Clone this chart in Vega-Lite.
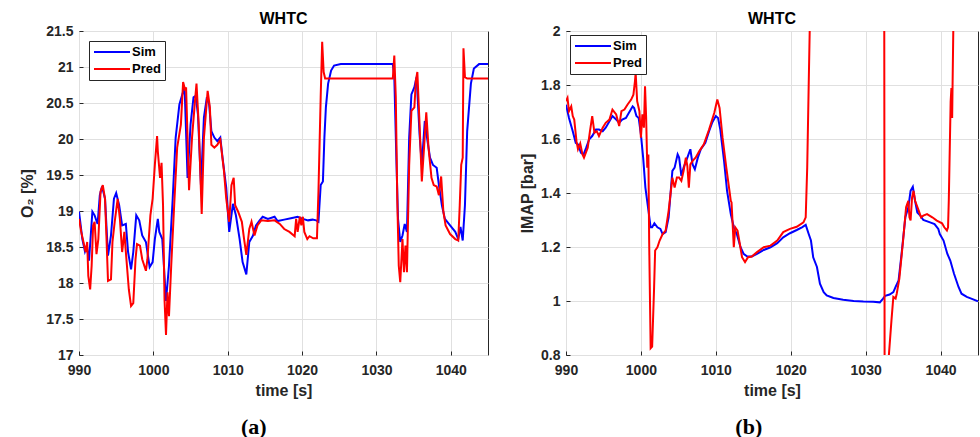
{
"$schema": "https://vega.github.io/schema/vega-lite/v6.json",
"padding": {"left": 19, "top": 10, "right": 0, "bottom": 0},
"spacing": 30,
"resolve": {"scale": {"color": "independent"}, "legend": {"color": "independent"}},
"datasets": {
"o2": [
{"t":990.0,"v":18.99,"s":"Sim"},{"t":990.45,"v":18.61,"s":"Sim"},{"t":990.8,"v":18.44,"s":"Sim"},{"t":991.05,"v":18.52,"s":"Sim"},{"t":991.35,"v":18.31,"s":"Sim"},{"t":991.8,"v":18.99,"s":"Sim"},{"t":992.1,"v":18.94,"s":"Sim"},{"t":992.5,"v":18.82,"s":"Sim"},{"t":992.8,"v":19.22,"s":"Sim"},{"t":993.1,"v":19.34,"s":"Sim"},{"t":993.5,"v":19.17,"s":"Sim"},{"t":993.9,"v":18.38,"s":"Sim"},{"t":994.3,"v":18.66,"s":"Sim"},{"t":994.7,"v":19.17,"s":"Sim"},{"t":995.0,"v":19.25,"s":"Sim"},{"t":995.4,"v":19.08,"s":"Sim"},{"t":995.8,"v":18.80,"s":"Sim"},{"t":996.3,"v":18.82,"s":"Sim"},{"t":996.6,"v":18.43,"s":"Sim"},{"t":997.0,"v":18.19,"s":"Sim"},{"t":997.3,"v":18.43,"s":"Sim"},{"t":997.7,"v":18.94,"s":"Sim"},{"t":998.1,"v":18.87,"s":"Sim"},{"t":998.5,"v":18.66,"s":"Sim"},{"t":999.0,"v":18.57,"s":"Sim"},{"t":999.5,"v":18.22,"s":"Sim"},{"t":999.9,"v":18.29,"s":"Sim"},{"t":1000.2,"v":18.61,"s":"Sim"},{"t":1000.6,"v":18.89,"s":"Sim"},{"t":1000.8,"v":18.71,"s":"Sim"},{"t":1001.2,"v":18.61,"s":"Sim"},{"t":1001.7,"v":17.75,"s":"Sim"},{"t":1002.1,"v":18.24,"s":"Sim"},{"t":1002.6,"v":19.17,"s":"Sim"},{"t":1003.0,"v":20.02,"s":"Sim"},{"t":1003.5,"v":20.48,"s":"Sim"},{"t":1003.9,"v":20.62,"s":"Sim"},{"t":1004.2,"v":20.72,"s":"Sim"},{"t":1004.6,"v":19.46,"s":"Sim"},{"t":1005.0,"v":20.20,"s":"Sim"},{"t":1005.4,"v":20.58,"s":"Sim"},{"t":1005.7,"v":20.60,"s":"Sim"},{"t":1006.0,"v":20.34,"s":"Sim"},{"t":1006.4,"v":19.36,"s":"Sim"},{"t":1006.8,"v":20.30,"s":"Sim"},{"t":1007.2,"v":20.58,"s":"Sim"},{"t":1007.5,"v":20.48,"s":"Sim"},{"t":1007.8,"v":20.11,"s":"Sim"},{"t":1008.2,"v":20.02,"s":"Sim"},{"t":1008.6,"v":19.97,"s":"Sim"},{"t":1009.0,"v":20.02,"s":"Sim"},{"t":1009.3,"v":19.74,"s":"Sim"},{"t":1009.8,"v":19.32,"s":"Sim"},{"t":1010.2,"v":18.71,"s":"Sim"},{"t":1010.7,"v":19.10,"s":"Sim"},{"t":1011.1,"v":18.94,"s":"Sim"},{"t":1011.6,"v":18.61,"s":"Sim"},{"t":1012.0,"v":18.29,"s":"Sim"},{"t":1012.5,"v":18.12,"s":"Sim"},{"t":1012.9,"v":18.57,"s":"Sim"},{"t":1013.4,"v":18.66,"s":"Sim"},{"t":1013.8,"v":18.80,"s":"Sim"},{"t":1014.3,"v":18.87,"s":"Sim"},{"t":1014.7,"v":18.92,"s":"Sim"},{"t":1015.4,"v":18.89,"s":"Sim"},{"t":1016.3,"v":18.92,"s":"Sim"},{"t":1016.7,"v":18.86,"s":"Sim"},{"t":1017.6,"v":18.88,"s":"Sim"},{"t":1018.5,"v":18.90,"s":"Sim"},{"t":1019.4,"v":18.92,"s":"Sim"},{"t":1020.1,"v":18.89,"s":"Sim"},{"t":1020.8,"v":18.87,"s":"Sim"},{"t":1021.4,"v":18.88,"s":"Sim"},{"t":1021.9,"v":18.87,"s":"Sim"},{"t":1022.2,"v":18.85,"s":"Sim"},{"t":1022.5,"v":19.36,"s":"Sim"},{"t":1022.8,"v":19.41,"s":"Sim"},{"t":1023.0,"v":20.02,"s":"Sim"},{"t":1023.2,"v":20.44,"s":"Sim"},{"t":1023.5,"v":20.77,"s":"Sim"},{"t":1023.9,"v":20.95,"s":"Sim"},{"t":1024.3,"v":21.02,"s":"Sim"},{"t":1025.2,"v":21.04,"s":"Sim"},{"t":1032.2,"v":21.04,"s":"Sim"},{"t":1032.4,"v":20.86,"s":"Sim"},{"t":1032.7,"v":19.64,"s":"Sim"},{"t":1032.9,"v":18.89,"s":"Sim"},{"t":1033.2,"v":18.57,"s":"Sim"},{"t":1033.5,"v":18.66,"s":"Sim"},{"t":1033.8,"v":18.82,"s":"Sim"},{"t":1034.1,"v":18.71,"s":"Sim"},{"t":1034.4,"v":20.02,"s":"Sim"},{"t":1034.7,"v":20.62,"s":"Sim"},{"t":1035.1,"v":20.72,"s":"Sim"},{"t":1035.4,"v":20.86,"s":"Sim"},{"t":1035.8,"v":20.06,"s":"Sim"},{"t":1036.1,"v":19.64,"s":"Sim"},{"t":1036.5,"v":20.25,"s":"Sim"},{"t":1036.8,"v":20.02,"s":"Sim"},{"t":1037.2,"v":19.74,"s":"Sim"},{"t":1037.6,"v":19.64,"s":"Sim"},{"t":1038.1,"v":19.60,"s":"Sim"},{"t":1038.4,"v":19.36,"s":"Sim"},{"t":1038.8,"v":19.08,"s":"Sim"},{"t":1039.2,"v":18.89,"s":"Sim"},{"t":1039.9,"v":18.80,"s":"Sim"},{"t":1040.6,"v":18.71,"s":"Sim"},{"t":1041.0,"v":18.61,"s":"Sim"},{"t":1041.3,"v":18.78,"s":"Sim"},{"t":1041.6,"v":18.59,"s":"Sim"},{"t":1041.9,"v":19.08,"s":"Sim"},{"t":1042.2,"v":20.11,"s":"Sim"},{"t":1042.7,"v":20.77,"s":"Sim"},{"t":1043.1,"v":20.98,"s":"Sim"},{"t":1043.8,"v":21.04,"s":"Sim"},{"t":1045.0,"v":21.04,"s":"Sim"},
{"t":990.0,"v":18.89,"s":"Pred"},{"t":990.3,"v":18.71,"s":"Pred"},{"t":990.7,"v":18.52,"s":"Pred"},{"t":990.9,"v":18.43,"s":"Pred"},{"t":991.1,"v":18.57,"s":"Pred"},{"t":991.25,"v":18.10,"s":"Pred"},{"t":991.5,"v":17.91,"s":"Pred"},{"t":991.7,"v":18.24,"s":"Pred"},{"t":991.9,"v":18.80,"s":"Pred"},{"t":992.1,"v":18.85,"s":"Pred"},{"t":992.35,"v":18.40,"s":"Pred"},{"t":992.6,"v":18.61,"s":"Pred"},{"t":992.9,"v":19.27,"s":"Pred"},{"t":993.2,"v":19.36,"s":"Pred"},{"t":993.5,"v":19.17,"s":"Pred"},{"t":993.7,"v":18.61,"s":"Pred"},{"t":993.9,"v":18.03,"s":"Pred"},{"t":994.3,"v":18.05,"s":"Pred"},{"t":994.5,"v":18.57,"s":"Pred"},{"t":994.8,"v":18.85,"s":"Pred"},{"t":995.2,"v":19.17,"s":"Pred"},{"t":995.5,"v":18.89,"s":"Pred"},{"t":995.8,"v":18.43,"s":"Pred"},{"t":996.1,"v":18.71,"s":"Pred"},{"t":996.3,"v":18.43,"s":"Pred"},{"t":996.7,"v":17.91,"s":"Pred"},{"t":997.0,"v":17.68,"s":"Pred"},{"t":997.3,"v":17.72,"s":"Pred"},{"t":997.6,"v":18.33,"s":"Pred"},{"t":997.8,"v":18.54,"s":"Pred"},{"t":998.2,"v":18.52,"s":"Pred"},{"t":998.5,"v":18.33,"s":"Pred"},{"t":999.0,"v":18.17,"s":"Pred"},{"t":999.2,"v":18.33,"s":"Pred"},{"t":999.6,"v":18.94,"s":"Pred"},{"t":999.9,"v":19.17,"s":"Pred"},{"t":1000.2,"v":19.64,"s":"Pred"},{"t":1000.5,"v":20.04,"s":"Pred"},{"t":1000.6,"v":19.83,"s":"Pred"},{"t":1000.9,"v":19.46,"s":"Pred"},{"t":1001.1,"v":19.67,"s":"Pred"},{"t":1001.3,"v":19.08,"s":"Pred"},{"t":1001.5,"v":17.77,"s":"Pred"},{"t":1001.7,"v":17.28,"s":"Pred"},{"t":1001.9,"v":17.87,"s":"Pred"},{"t":1002.1,"v":17.54,"s":"Pred"},{"t":1002.4,"v":18.24,"s":"Pred"},{"t":1002.8,"v":19.08,"s":"Pred"},{"t":1003.2,"v":19.88,"s":"Pred"},{"t":1003.7,"v":20.20,"s":"Pred"},{"t":1004.0,"v":20.79,"s":"Pred"},{"t":1004.3,"v":20.67,"s":"Pred"},{"t":1004.4,"v":20.72,"s":"Pred"},{"t":1004.8,"v":19.29,"s":"Pred"},{"t":1005.2,"v":20.02,"s":"Pred"},{"t":1005.6,"v":20.53,"s":"Pred"},{"t":1005.8,"v":20.77,"s":"Pred"},{"t":1006.1,"v":20.20,"s":"Pred"},{"t":1006.5,"v":18.96,"s":"Pred"},{"t":1006.8,"v":20.02,"s":"Pred"},{"t":1007.3,"v":20.67,"s":"Pred"},{"t":1007.6,"v":20.44,"s":"Pred"},{"t":1007.8,"v":19.92,"s":"Pred"},{"t":1008.2,"v":19.88,"s":"Pred"},{"t":1008.6,"v":19.92,"s":"Pred"},{"t":1009.0,"v":19.99,"s":"Pred"},{"t":1009.5,"v":19.55,"s":"Pred"},{"t":1009.8,"v":19.17,"s":"Pred"},{"t":1010.2,"v":18.85,"s":"Pred"},{"t":1010.5,"v":19.36,"s":"Pred"},{"t":1010.8,"v":19.46,"s":"Pred"},{"t":1011.0,"v":19.08,"s":"Pred"},{"t":1011.4,"v":18.99,"s":"Pred"},{"t":1011.9,"v":18.85,"s":"Pred"},{"t":1012.2,"v":18.61,"s":"Pred"},{"t":1012.5,"v":18.39,"s":"Pred"},{"t":1012.9,"v":18.75,"s":"Pred"},{"t":1013.2,"v":18.85,"s":"Pred"},{"t":1013.6,"v":18.66,"s":"Pred"},{"t":1014.0,"v":18.80,"s":"Pred"},{"t":1014.5,"v":18.87,"s":"Pred"},{"t":1015.4,"v":18.86,"s":"Pred"},{"t":1016.3,"v":18.87,"s":"Pred"},{"t":1017.0,"v":18.82,"s":"Pred"},{"t":1017.6,"v":18.75,"s":"Pred"},{"t":1018.3,"v":18.71,"s":"Pred"},{"t":1019.0,"v":18.65,"s":"Pred"},{"t":1019.2,"v":18.89,"s":"Pred"},{"t":1019.4,"v":18.71,"s":"Pred"},{"t":1019.7,"v":18.92,"s":"Pred"},{"t":1019.9,"v":18.80,"s":"Pred"},{"t":1020.1,"v":18.92,"s":"Pred"},{"t":1020.3,"v":18.71,"s":"Pred"},{"t":1020.7,"v":18.61,"s":"Pred"},{"t":1021.0,"v":18.65,"s":"Pred"},{"t":1021.5,"v":18.62,"s":"Pred"},{"t":1022.0,"v":18.62,"s":"Pred"},{"t":1022.2,"v":19.27,"s":"Pred"},{"t":1022.5,"v":20.58,"s":"Pred"},{"t":1022.7,"v":21.35,"s":"Pred"},{"t":1022.9,"v":20.93,"s":"Pred"},{"t":1023.1,"v":20.84,"s":"Pred"},{"t":1032.2,"v":20.84,"s":"Pred"},{"t":1032.4,"v":21.16,"s":"Pred"},{"t":1032.6,"v":20.58,"s":"Pred"},{"t":1032.8,"v":19.17,"s":"Pred"},{"t":1033.0,"v":18.24,"s":"Pred"},{"t":1033.2,"v":18.01,"s":"Pred"},{"t":1033.5,"v":18.61,"s":"Pred"},{"t":1033.7,"v":18.15,"s":"Pred"},{"t":1033.9,"v":18.52,"s":"Pred"},{"t":1034.1,"v":18.15,"s":"Pred"},{"t":1034.4,"v":19.64,"s":"Pred"},{"t":1034.7,"v":20.39,"s":"Pred"},{"t":1035.1,"v":20.44,"s":"Pred"},{"t":1035.3,"v":20.81,"s":"Pred"},{"t":1035.5,"v":20.93,"s":"Pred"},{"t":1035.8,"v":20.20,"s":"Pred"},{"t":1036.1,"v":19.41,"s":"Pred"},{"t":1036.4,"v":19.88,"s":"Pred"},{"t":1036.7,"v":20.37,"s":"Pred"},{"t":1037.0,"v":19.88,"s":"Pred"},{"t":1037.4,"v":19.46,"s":"Pred"},{"t":1037.7,"v":19.36,"s":"Pred"},{"t":1038.1,"v":19.34,"s":"Pred"},{"t":1038.4,"v":19.22,"s":"Pred"},{"t":1038.7,"v":19.48,"s":"Pred"},{"t":1039.0,"v":18.99,"s":"Pred"},{"t":1039.3,"v":18.80,"s":"Pred"},{"t":1039.9,"v":18.68,"s":"Pred"},{"t":1040.6,"v":18.61,"s":"Pred"},{"t":1041.0,"v":18.59,"s":"Pred"},{"t":1041.2,"v":19.08,"s":"Pred"},{"t":1041.4,"v":19.64,"s":"Pred"},{"t":1041.6,"v":19.74,"s":"Pred"},{"t":1041.7,"v":21.26,"s":"Pred"},{"t":1041.9,"v":20.86,"s":"Pred"},{"t":1042.2,"v":20.84,"s":"Pred"},{"t":1045.0,"v":20.84,"s":"Pred"}
],
"imap": [
{"t":990.0,"v":1.727,"s":"Sim"},{"t":990.4,"v":1.678,"s":"Sim"},{"t":990.9,"v":1.629,"s":"Sim"},{"t":991.3,"v":1.586,"s":"Sim"},{"t":991.6,"v":1.580,"s":"Sim"},{"t":992.0,"v":1.549,"s":"Sim"},{"t":992.35,"v":1.543,"s":"Sim"},{"t":992.7,"v":1.568,"s":"Sim"},{"t":993.1,"v":1.599,"s":"Sim"},{"t":993.5,"v":1.611,"s":"Sim"},{"t":994.0,"v":1.635,"s":"Sim"},{"t":994.4,"v":1.635,"s":"Sim"},{"t":994.9,"v":1.629,"s":"Sim"},{"t":995.3,"v":1.642,"s":"Sim"},{"t":995.8,"v":1.666,"s":"Sim"},{"t":996.2,"v":1.685,"s":"Sim"},{"t":996.7,"v":1.672,"s":"Sim"},{"t":997.1,"v":1.660,"s":"Sim"},{"t":997.5,"v":1.672,"s":"Sim"},{"t":998.0,"v":1.678,"s":"Sim"},{"t":998.4,"v":1.697,"s":"Sim"},{"t":998.9,"v":1.721,"s":"Sim"},{"t":999.1,"v":1.715,"s":"Sim"},{"t":999.4,"v":1.685,"s":"Sim"},{"t":999.7,"v":1.678,"s":"Sim"},{"t":1000.0,"v":1.617,"s":"Sim"},{"t":1000.3,"v":1.531,"s":"Sim"},{"t":1000.6,"v":1.420,"s":"Sim"},{"t":1000.95,"v":1.347,"s":"Sim"},{"t":1001.3,"v":1.273,"s":"Sim"},{"t":1001.5,"v":1.273,"s":"Sim"},{"t":1001.8,"v":1.288,"s":"Sim"},{"t":1002.2,"v":1.273,"s":"Sim"},{"t":1002.6,"v":1.267,"s":"Sim"},{"t":1002.9,"v":1.248,"s":"Sim"},{"t":1003.3,"v":1.255,"s":"Sim"},{"t":1003.7,"v":1.310,"s":"Sim"},{"t":1004.2,"v":1.482,"s":"Sim"},{"t":1004.5,"v":1.494,"s":"Sim"},{"t":1004.9,"v":1.543,"s":"Sim"},{"t":1005.1,"v":1.531,"s":"Sim"},{"t":1005.4,"v":1.463,"s":"Sim"},{"t":1005.7,"v":1.494,"s":"Sim"},{"t":1006.2,"v":1.531,"s":"Sim"},{"t":1006.6,"v":1.562,"s":"Sim"},{"t":1006.9,"v":1.506,"s":"Sim"},{"t":1007.2,"v":1.488,"s":"Sim"},{"t":1007.6,"v":1.531,"s":"Sim"},{"t":1008.0,"v":1.562,"s":"Sim"},{"t":1008.6,"v":1.586,"s":"Sim"},{"t":1009.1,"v":1.629,"s":"Sim"},{"t":1009.5,"v":1.660,"s":"Sim"},{"t":1010.0,"v":1.685,"s":"Sim"},{"t":1010.3,"v":1.678,"s":"Sim"},{"t":1010.6,"v":1.635,"s":"Sim"},{"t":1011.1,"v":1.519,"s":"Sim"},{"t":1011.5,"v":1.408,"s":"Sim"},{"t":1012.0,"v":1.322,"s":"Sim"},{"t":1012.4,"v":1.273,"s":"Sim"},{"t":1012.8,"v":1.248,"s":"Sim"},{"t":1013.3,"v":1.199,"s":"Sim"},{"t":1013.7,"v":1.175,"s":"Sim"},{"t":1014.2,"v":1.165,"s":"Sim"},{"t":1014.8,"v":1.165,"s":"Sim"},{"t":1015.5,"v":1.175,"s":"Sim"},{"t":1016.4,"v":1.189,"s":"Sim"},{"t":1017.3,"v":1.199,"s":"Sim"},{"t":1018.2,"v":1.214,"s":"Sim"},{"t":1019.0,"v":1.236,"s":"Sim"},{"t":1019.9,"v":1.251,"s":"Sim"},{"t":1020.8,"v":1.263,"s":"Sim"},{"t":1021.5,"v":1.273,"s":"Sim"},{"t":1022.0,"v":1.282,"s":"Sim"},{"t":1022.4,"v":1.248,"s":"Sim"},{"t":1022.7,"v":1.224,"s":"Sim"},{"t":1023.0,"v":1.162,"s":"Sim"},{"t":1023.5,"v":1.126,"s":"Sim"},{"t":1023.9,"v":1.064,"s":"Sim"},{"t":1024.4,"v":1.033,"s":"Sim"},{"t":1024.8,"v":1.021,"s":"Sim"},{"t":1025.7,"v":1.011,"s":"Sim"},{"t":1027.0,"v":1.005,"s":"Sim"},{"t":1028.4,"v":1.000,"s":"Sim"},{"t":1029.7,"v":0.998,"s":"Sim"},{"t":1031.0,"v":0.997,"s":"Sim"},{"t":1031.9,"v":0.995,"s":"Sim"},{"t":1032.3,"v":1.008,"s":"Sim"},{"t":1032.6,"v":1.019,"s":"Sim"},{"t":1033.2,"v":1.024,"s":"Sim"},{"t":1033.7,"v":1.033,"s":"Sim"},{"t":1034.0,"v":1.052,"s":"Sim"},{"t":1034.4,"v":1.076,"s":"Sim"},{"t":1034.8,"v":1.175,"s":"Sim"},{"t":1035.3,"v":1.310,"s":"Sim"},{"t":1035.7,"v":1.347,"s":"Sim"},{"t":1036.0,"v":1.408,"s":"Sim"},{"t":1036.3,"v":1.423,"s":"Sim"},{"t":1036.6,"v":1.371,"s":"Sim"},{"t":1036.9,"v":1.328,"s":"Sim"},{"t":1037.3,"v":1.316,"s":"Sim"},{"t":1037.7,"v":1.300,"s":"Sim"},{"t":1038.6,"v":1.291,"s":"Sim"},{"t":1039.2,"v":1.285,"s":"Sim"},{"t":1039.7,"v":1.267,"s":"Sim"},{"t":1039.9,"v":1.248,"s":"Sim"},{"t":1040.4,"v":1.224,"s":"Sim"},{"t":1040.9,"v":1.175,"s":"Sim"},{"t":1041.3,"v":1.150,"s":"Sim"},{"t":1041.8,"v":1.101,"s":"Sim"},{"t":1042.4,"v":1.052,"s":"Sim"},{"t":1042.8,"v":1.027,"s":"Sim"},{"t":1043.5,"v":1.015,"s":"Sim"},{"t":1044.1,"v":1.009,"s":"Sim"},{"t":1045.0,"v":0.999,"s":"Sim"},
{"t":990.0,"v":1.740,"s":"Pred"},{"t":990.2,"v":1.752,"s":"Pred"},{"t":990.4,"v":1.703,"s":"Pred"},{"t":990.7,"v":1.721,"s":"Pred"},{"t":990.9,"v":1.685,"s":"Pred"},{"t":991.1,"v":1.672,"s":"Pred"},{"t":991.4,"v":1.592,"s":"Pred"},{"t":991.6,"v":1.562,"s":"Pred"},{"t":991.9,"v":1.583,"s":"Pred"},{"t":992.2,"v":1.543,"s":"Pred"},{"t":992.4,"v":1.531,"s":"Pred"},{"t":992.9,"v":1.568,"s":"Pred"},{"t":993.2,"v":1.629,"s":"Pred"},{"t":993.5,"v":1.685,"s":"Pred"},{"t":993.8,"v":1.623,"s":"Pred"},{"t":994.1,"v":1.629,"s":"Pred"},{"t":994.4,"v":1.611,"s":"Pred"},{"t":994.9,"v":1.642,"s":"Pred"},{"t":995.3,"v":1.660,"s":"Pred"},{"t":995.8,"v":1.672,"s":"Pred"},{"t":996.2,"v":1.709,"s":"Pred"},{"t":996.7,"v":1.691,"s":"Pred"},{"t":997.1,"v":1.648,"s":"Pred"},{"t":997.4,"v":1.703,"s":"Pred"},{"t":997.8,"v":1.709,"s":"Pred"},{"t":998.2,"v":1.727,"s":"Pred"},{"t":998.7,"v":1.746,"s":"Pred"},{"t":999.0,"v":1.764,"s":"Pred"},{"t":999.2,"v":1.813,"s":"Pred"},{"t":999.3,"v":1.844,"s":"Pred"},{"t":999.5,"v":1.740,"s":"Pred"},{"t":999.8,"v":1.703,"s":"Pred"},{"t":1000.0,"v":1.605,"s":"Pred"},{"t":1000.2,"v":1.691,"s":"Pred"},{"t":1000.4,"v":1.642,"s":"Pred"},{"t":1000.55,"v":1.795,"s":"Pred"},{"t":1000.7,"v":1.678,"s":"Pred"},{"t":1000.85,"v":1.494,"s":"Pred"},{"t":1001.0,"v":1.543,"s":"Pred"},{"t":1001.1,"v":1.224,"s":"Pred"},{"t":1001.3,"v":0.825,"s":"Pred"},{"t":1001.5,"v":0.831,"s":"Pred"},{"t":1001.75,"v":1.040,"s":"Pred"},{"t":1001.9,"v":1.187,"s":"Pred"},{"t":1002.2,"v":1.199,"s":"Pred"},{"t":1002.5,"v":1.224,"s":"Pred"},{"t":1002.9,"v":1.248,"s":"Pred"},{"t":1003.3,"v":1.261,"s":"Pred"},{"t":1003.7,"v":1.334,"s":"Pred"},{"t":1004.2,"v":1.457,"s":"Pred"},{"t":1004.5,"v":1.420,"s":"Pred"},{"t":1004.8,"v":1.457,"s":"Pred"},{"t":1005.1,"v":1.457,"s":"Pred"},{"t":1005.4,"v":1.445,"s":"Pred"},{"t":1005.7,"v":1.482,"s":"Pred"},{"t":1006.0,"v":1.531,"s":"Pred"},{"t":1006.2,"v":1.500,"s":"Pred"},{"t":1006.4,"v":1.420,"s":"Pred"},{"t":1006.6,"v":1.506,"s":"Pred"},{"t":1006.9,"v":1.519,"s":"Pred"},{"t":1007.3,"v":1.531,"s":"Pred"},{"t":1007.8,"v":1.555,"s":"Pred"},{"t":1008.4,"v":1.580,"s":"Pred"},{"t":1009.1,"v":1.635,"s":"Pred"},{"t":1009.8,"v":1.697,"s":"Pred"},{"t":1010.2,"v":1.746,"s":"Pred"},{"t":1010.5,"v":1.715,"s":"Pred"},{"t":1010.9,"v":1.605,"s":"Pred"},{"t":1011.4,"v":1.494,"s":"Pred"},{"t":1011.7,"v":1.433,"s":"Pred"},{"t":1012.0,"v":1.371,"s":"Pred"},{"t":1012.1,"v":1.365,"s":"Pred"},{"t":1012.4,"v":1.199,"s":"Pred"},{"t":1012.6,"v":1.273,"s":"Pred"},{"t":1012.9,"v":1.261,"s":"Pred"},{"t":1013.2,"v":1.212,"s":"Pred"},{"t":1013.5,"v":1.162,"s":"Pred"},{"t":1013.9,"v":1.144,"s":"Pred"},{"t":1014.3,"v":1.162,"s":"Pred"},{"t":1014.8,"v":1.165,"s":"Pred"},{"t":1015.5,"v":1.181,"s":"Pred"},{"t":1016.4,"v":1.199,"s":"Pred"},{"t":1017.3,"v":1.205,"s":"Pred"},{"t":1018.2,"v":1.224,"s":"Pred"},{"t":1019.0,"v":1.255,"s":"Pred"},{"t":1019.9,"v":1.267,"s":"Pred"},{"t":1020.8,"v":1.275,"s":"Pred"},{"t":1021.7,"v":1.291,"s":"Pred"},{"t":1022.0,"v":1.310,"s":"Pred"},{"t":1022.2,"v":1.494,"s":"Pred"},{"t":1022.4,"v":1.801,"s":"Pred"},{"t":1022.6,"v":2.10,"s":"Pred"},{"t":1022.8,"v":3.0,"s":"Pred"},{"t":1032.45,"v":3.0,"s":"Pred"},{"t":1032.55,"v":0.3,"s":"Pred"},{"t":1032.95,"v":0.3,"s":"Pred"},{"t":1033.05,"v":0.78,"s":"Pred"},{"t":1033.45,"v":0.929,"s":"Pred"},{"t":1033.7,"v":1.015,"s":"Pred"},{"t":1034.0,"v":1.009,"s":"Pred"},{"t":1034.15,"v":1.027,"s":"Pred"},{"t":1034.5,"v":1.083,"s":"Pred"},{"t":1035.0,"v":1.224,"s":"Pred"},{"t":1035.4,"v":1.347,"s":"Pred"},{"t":1035.7,"v":1.371,"s":"Pred"},{"t":1035.85,"v":1.310,"s":"Pred"},{"t":1036.0,"v":1.298,"s":"Pred"},{"t":1036.2,"v":1.384,"s":"Pred"},{"t":1036.4,"v":1.408,"s":"Pred"},{"t":1036.6,"v":1.371,"s":"Pred"},{"t":1037.1,"v":1.334,"s":"Pred"},{"t":1037.4,"v":1.310,"s":"Pred"},{"t":1037.7,"v":1.316,"s":"Pred"},{"t":1038.2,"v":1.322,"s":"Pred"},{"t":1038.9,"v":1.310,"s":"Pred"},{"t":1039.5,"v":1.298,"s":"Pred"},{"t":1040.2,"v":1.288,"s":"Pred"},{"t":1040.5,"v":1.273,"s":"Pred"},{"t":1040.85,"v":1.261,"s":"Pred"},{"t":1041.0,"v":1.273,"s":"Pred"},{"t":1041.1,"v":1.371,"s":"Pred"},{"t":1041.35,"v":1.740,"s":"Pred"},{"t":1041.45,"v":1.789,"s":"Pred"},{"t":1041.55,"v":1.678,"s":"Pred"},{"t":1041.6,"v":1.789,"s":"Pred"},{"t":1041.7,"v":1.998,"s":"Pred"},{"t":1041.8,"v":2.6,"s":"Pred"},{"t":1045.0,"v":3.0,"s":"Pred"}
]
},
"hconcat": [
{
"title": {"text": "(a)", "orient": "bottom", "anchor": "middle", "font": "Liberation Serif", "fontSize": 22, "fontWeight": "bold", "color": "#000000", "offset": 18},
"resolve": {"scale": {"color": "independent"}, "legend": {"color": "independent"}},
"vconcat": [
{
"title": {"text": "WHTC", "fontSize": 16, "fontWeight": "bold", "color": "#000000", "anchor": "middle", "frame": "group", "offset": -3},
"width": 409, "height": 324,
"data": {"name": "o2"},
"mark": {"type": "line", "clip": true, "strokeWidth": 2},
"encoding": {
"x": {"field": "t", "type": "quantitative", "scale": {"domain": [990, 1045], "nice": false, "zero": false}, "axis": {"title": "time [s]", "labelPadding": 12, "titlePadding": 5, "values": [990, 1000, 1010, 1020, 1030, 1040], "format": "d"}},
"y": {"field": "v", "type": "quantitative", "scale": {"domain": [17, 21.5], "nice": false, "zero": false}, "axis": {"title": "O₂ [%]", "titlePadding": 10, "values": [17, 17.5, 18, 18.5, 19, 19.5, 20, 20.5, 21, 21.5], "format": "~g"}},
"color": {"field": "s", "type": "nominal", "scale": {"domain": ["Sim", "Pred"], "range": ["#0000ff", "#ff0000"]}, "legend": {"orient": "top-left", "offset": 10}}
}
}
]
},
{
"title": {"text": "(b)", "orient": "bottom", "anchor": "middle", "font": "Liberation Serif", "fontSize": 22, "fontWeight": "bold", "color": "#000000", "offset": 18},
"resolve": {"scale": {"color": "independent"}, "legend": {"color": "independent"}},
"vconcat": [
{
"title": {"text": "WHTC", "fontSize": 16, "fontWeight": "bold", "color": "#000000", "anchor": "middle", "frame": "group", "offset": -3},
"width": 412, "height": 324,
"data": {"name": "imap"},
"mark": {"type": "line", "clip": true, "strokeWidth": 2},
"encoding": {
"x": {"field": "t", "type": "quantitative", "scale": {"domain": [990, 1045], "nice": false, "zero": false}, "axis": {"title": "time [s]", "labelPadding": 12, "titlePadding": 5, "values": [990, 1000, 1010, 1020, 1030, 1040], "format": "d"}},
"y": {"field": "v", "type": "quantitative", "scale": {"domain": [0.8, 2], "nice": false, "zero": false}, "axis": {"title": "IMAP [bar]", "titlePadding": 5, "values": [0.8, 1, 1.2, 1.4, 1.6, 1.8, 2], "format": "~g"}},
"color": {"field": "s", "type": "nominal", "scale": {"domain": ["Sim", "Pred"], "range": ["#0000ff", "#ff0000"]}, "legend": {"orient": "top-left", "offset": 4}}
}
}
]
}
],
"config": {
"font": "Liberation Sans",
"view": {"stroke": "#262626", "strokeWidth": 1},
"axis": {"labelFont": "Liberation Sans", "labelFontSize": 14, "labelFontWeight": "bold", "labelColor": "#262626", "titleFont": "Liberation Sans", "titleFontSize": 16, "titleFontWeight": "bold", "titleColor": "#262626", "gridColor": "#e0e0e0", "gridWidth": 1, "domain": false, "tickColor": "#262626", "tickSize": -4, "labelPadding": 10, "titlePadding": 1, "labelFlush": false, "labelOverlap": false},
"legend": {"title": null, "symbolType": "M -1 0 H 5", "symbolSize": 144, "symbolStrokeWidth": 2, "labelOffset": 25, "labelFont": "Liberation Sans", "labelFontSize": 13, "labelFontWeight": "bold", "labelColor": "#000000", "strokeColor": "#262626", "fillColor": "#ffffff", "padding": 4, "rowPadding": 3}
}
}
